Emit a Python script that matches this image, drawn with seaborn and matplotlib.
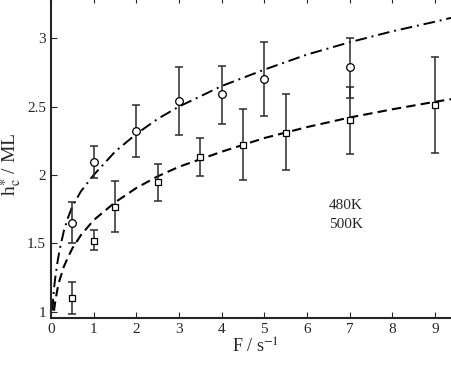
import numpy as np
import pandas as pd
import matplotlib
matplotlib.use("Agg")
import matplotlib.pyplot as plt
import seaborn as sns

# measured critical thickness, 480 K (circles)
f_480 = [0.5, 1, 2, 3, 4, 5, 7]
h_480 = [1.65, 2.095, 2.32, 2.54, 2.59, 2.70, 2.79]
lo_480 = [1.50, 1.98, 2.13, 2.29, 2.37, 2.43, 2.56]
hi_480 = [1.80, 2.21, 2.51, 2.79, 2.80, 2.97, 3.00]

# measured critical thickness, 500 K (squares)
f_500 = [0.5, 1, 1.5, 2.5, 3.5, 4.5, 5.5, 7, 9]
h_500 = [1.10, 1.52, 1.765, 1.95, 2.13, 2.22, 2.31, 2.40, 2.51]
lo_500 = [0.985, 1.45, 1.58, 1.81, 1.99, 1.96, 2.04, 2.155, 2.16]
hi_500 = [1.22, 1.595, 1.955, 2.08, 2.27, 2.48, 2.59, 2.64, 2.86]

# model curves
curve_f = [0.035, 0.05, 0.07, 0.1, 0.15, 0.2, 0.3, 0.4, 0.5, 0.7, 1, 1.5,
           2, 2.5, 3, 4, 5, 6, 7, 8, 9, 9.6]
curve_480 = [1.01, 1.09, 1.17, 1.25, 1.36, 1.45, 1.59, 1.69, 1.77, 1.88, 2.0,
             2.17, 2.30, 2.41, 2.50, 2.65, 2.77, 2.88, 2.97, 3.05, 3.12, 3.165]
curve_f2 = [0.07, 0.1, 0.15, 0.2, 0.3, 0.4, 0.5, 0.7, 1, 1.5, 2, 2.5, 3, 4,
            5, 6, 7, 8, 9, 9.6]
curve_500 = [1.008, 1.078, 1.165, 1.23, 1.33, 1.40, 1.464, 1.56, 1.67, 1.80,
             1.905, 1.99, 2.06, 2.17, 2.27, 2.35, 2.42, 2.48, 2.535, 2.565]

x_ticks = [0, 1, 2, 3, 4, 5, 6, 7, 8, 9]
y_ticks = [1, 1.5, 2, 2.5, 3]
y_tick_labels = ["1", "1.5", "2", "2.5", "3"]

sns.set_theme(style="ticks")
plt.rcParams['font.family'] = ['Liberation Serif', 'DejaVu Serif']
plt.rcParams['mathtext.fontset'] = 'stix'

fig = plt.figure(figsize=(4.51, 3.68), dpi=100)
# axes run past the right and top edges, like the cropped original
ax = fig.add_axes([0.1131, 0.1359, 0.9082, 0.872])

c480 = pd.DataFrame({'F': curve_f, 'h': curve_480})
c500 = pd.DataFrame({'F': curve_f2, 'h': curve_500})
sns.lineplot(data=c480, x='F', y='h', ax=ax, color='black', linewidth=1.4,
             linestyle=(0, (6, 2.5, 1, 2.5)), sort=False)
sns.lineplot(data=c500, x='F', y='h', ax=ax, color='black', linewidth=1.5,
             linestyle=(0, (4.5, 2.5)), sort=False)

ecol = '#2b2b2b'
ax.errorbar(f_480, h_480,
            yerr=[np.subtract(h_480, lo_480), np.subtract(hi_480, h_480)],
            fmt='none', ecolor=ecol, elinewidth=1.1, capsize=3, capthick=1.1)
ax.errorbar(f_500, h_500,
            yerr=[np.subtract(h_500, lo_500), np.subtract(hi_500, h_500)],
            fmt='none', ecolor=ecol, elinewidth=1.1, capsize=3, capthick=1.1)

ax.plot(f_480, h_480, 'o', mfc='white', mec='black', ms=5.5, mew=0.9)
ax.plot(f_500, h_500, 's', mfc='white', mec='black', ms=4.5, mew=0.9)

ax.text(6.52, 1.78, "480K", fontsize=11, va='center', ha='left')
ax.text(6.52, 1.64, "500K", fontsize=11, va='center', ha='left')

ax.set_xlim(0, 9.6)
ax.set_ylim(0.955, 3.3)
ax.set_xticks(x_ticks)
ax.set_yticks(y_ticks)
ax.set_yticklabels(y_tick_labels)
ax.tick_params(direction='in', top=True, right=True, length=4, width=0.8,
               labelsize=11, pad=3.5)
for side in ['left', 'bottom']:
    ax.spines[side].set_linewidth(1.5)

ax.set_xlabel(r"F / s$^{-1}$", fontsize=13, labelpad=1)
ax.set_ylabel(r"h$_{\mathrm{c}}^{\ast}$ / ML", fontsize=14)
ax.yaxis.set_label_coords(-0.065, 0.48)

fig.savefig("out.png", dpi=100)
